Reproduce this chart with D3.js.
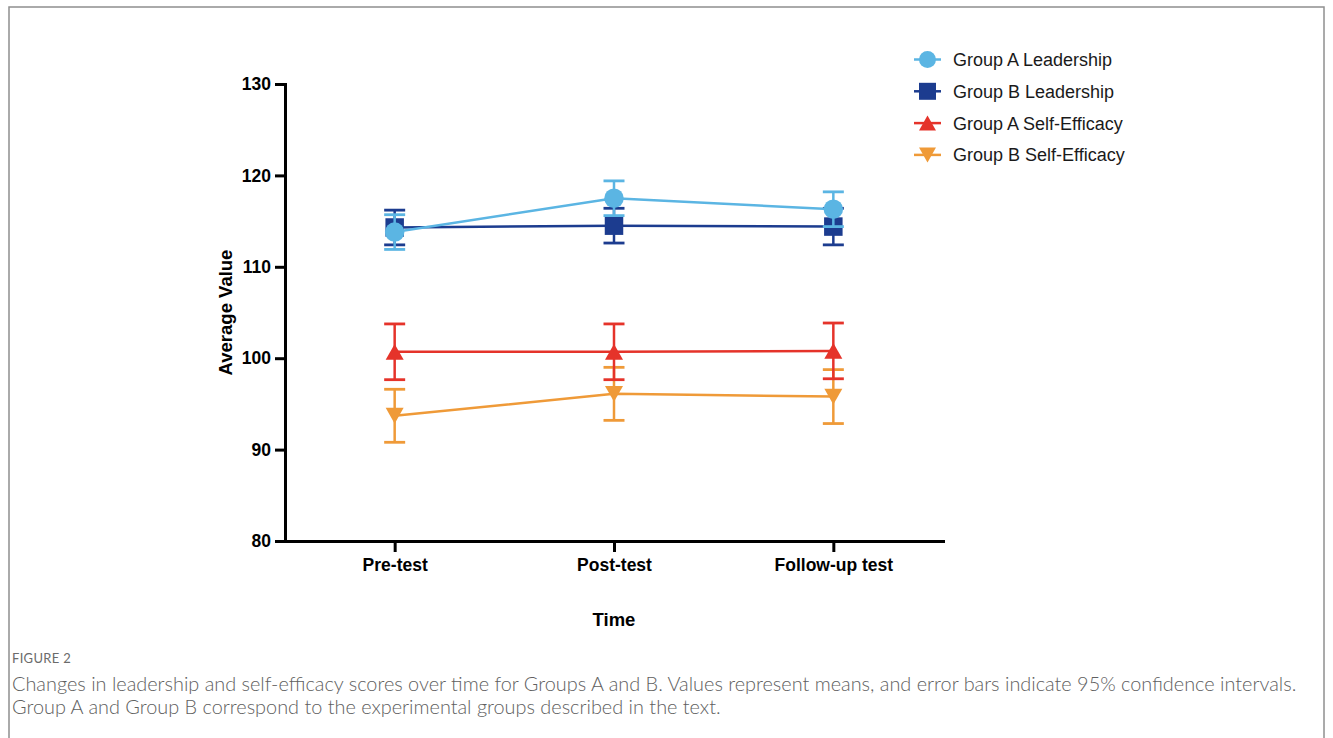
<!DOCTYPE html>
<html>
<head>
<meta charset="utf-8">
<script src="https://cdn.jsdelivr.net/npm/d3@7"></script>
<style>
  html, body { margin: 0; padding: 0; background: #fff; }
  svg { display: block; }
</style>
</head>
<body>
<svg id="chart" width="1333" height="738"></svg>
<script>
// ---------------- DATA ----------------
const categories = ["Pre-test", "Post-test", "Follow-up test"];
const yTicks = [80, 90, 100, 110, 120, 130];

const seriesNames = ["Group A Leadership", "Group B Leadership", "Group A Self-Efficacy", "Group B Self-Efficacy"];

const groupALeadership = [113.8, 117.5, 116.3];
const groupALeadershipCI = [1.9, 1.9, 1.9];

const groupBLeadership = [114.3, 114.5, 114.4];
const groupBLeadershipCI = [1.9, 1.9, 2.0];

const groupASelfEfficacy = [100.7, 100.7, 100.8];
const groupASelfEfficacyCI = [3.05, 3.05, 3.05];

const groupBSelfEfficacy = [93.7, 96.1, 95.8];
const groupBSelfEfficacyCI = [2.9, 2.9, 2.95];

const xTitle = "Time";
const yTitle = "Average Value";
const figureLabel = "FIGURE 2";
const captionLines = [
  "Changes in leadership and self-efficacy scores over time for Groups A and B. Values represent means, and error bars indicate 95% confidence intervals.",
  "Group A and Group B correspond to the experimental groups described in the text."
];

// ---------------- STYLES ----------------
const colors = {
  "Group A Leadership": "#5BB5E3",
  "Group B Leadership": "#1C3C8F",
  "Group A Self-Efficacy": "#E5332A",
  "Group B Self-Efficacy": "#EF9A38"
};

// custom symbols (centered on bounding box)
const triUp = { draw(ctx, size) { const w = Math.sqrt(size); const h = w * 0.88; ctx.moveTo(0, -h/2); ctx.lineTo(w/2, h/2); ctx.lineTo(-w/2, h/2); ctx.closePath(); } };
const triDown = { draw(ctx, size) { const w = Math.sqrt(size); const h = w * 0.88; ctx.moveTo(0, h/2); ctx.lineTo(w/2, -h/2); ctx.lineTo(-w/2, -h/2); ctx.closePath(); } };
const circ = { draw(ctx, size) { const r = Math.sqrt(size) / 2; ctx.moveTo(r, 0); ctx.arc(0, 0, r, 0, 2 * Math.PI); } };
const sq = { draw(ctx, size) { const w = Math.sqrt(size); ctx.rect(-w/2, -w/2, w, w); } };

const series = [
  { name: "Group B Leadership", values: groupBLeadership, ci: groupBLeadershipCI, shape: sq, size: 18.5 },
  { name: "Group A Leadership", values: groupALeadership, ci: groupALeadershipCI, shape: circ, size: 19.5 },
  { name: "Group B Self-Efficacy", values: groupBSelfEfficacy, ci: groupBSelfEfficacyCI, shape: triDown, size: 18 },
  { name: "Group A Self-Efficacy", values: groupASelfEfficacy, ci: groupASelfEfficacyCI, shape: triUp, size: 18 }
];
const legendShapes = { "Group A Leadership": circ, "Group B Leadership": sq, "Group A Self-Efficacy": triUp, "Group B Self-Efficacy": triDown };

// ---------------- LAYOUT ----------------
const svg = d3.select("#chart");
const plot = { left: 285, right: 943, top: 84, bottom: 541 };

// figure frame
svg.append("rect")
  .attr("x", 9).attr("y", 7).attr("width", 1315).attr("height", 760)
  .attr("fill", "none").attr("stroke", "#8f8f8f").attr("stroke-width", 1.5);

const x = d3.scalePoint().domain(categories).range([plot.left, plot.right]).padding(0.5);
const y = d3.scaleLinear().domain([80, 130]).range([plot.bottom, plot.top]);

const axisFont = "'Liberation Sans', Arial, Helvetica, sans-serif";

// Y axis
const yAxis = svg.append("g")
  .attr("transform", `translate(${plot.left},0)`)
  .call(d3.axisLeft(y).tickValues(yTicks).tickSize(10).tickSizeOuter(0).tickPadding(4).tickFormat(d3.format("d")));
yAxis.select(".domain").attr("stroke", "#000").attr("stroke-width", 3).attr("stroke-linecap", "square");
yAxis.selectAll(".tick line").attr("stroke", "#000").attr("stroke-width", 3);
yAxis.selectAll(".tick text")
  .attr("font-family", axisFont).attr("font-weight", "bold").attr("font-size", 17.5).attr("fill", "#000");

// X axis
const xAxis = svg.append("g")
  .attr("transform", `translate(0,${plot.bottom})`)
  .call(d3.axisBottom(x).tickSize(11).tickSizeOuter(0).tickPadding(7));
xAxis.select(".domain").attr("stroke", "#000").attr("stroke-width", 3).attr("stroke-linecap", "square");
xAxis.selectAll(".tick line").attr("stroke", "#000").attr("stroke-width", 3);
xAxis.selectAll(".tick text")
  .attr("font-family", axisFont).attr("font-weight", "bold").attr("font-size", 17.5).attr("fill", "#000");

// Axis titles
svg.append("text")
  .attr("x", (plot.left + plot.right) / 2).attr("y", 626)
  .attr("text-anchor", "middle")
  .attr("font-family", axisFont).attr("font-weight", "bold").attr("font-size", 18.5)
  .text(xTitle);

svg.append("text")
  .attr("transform", `translate(232,${(plot.top + plot.bottom) / 2}) rotate(-90)`)
  .attr("text-anchor", "middle")
  .attr("font-family", axisFont).attr("font-weight", "bold").attr("font-size", 18.5)
  .text(yTitle);

// Series
const line = d3.line().x((d, i) => x(categories[i])).y(d => y(d));
const capW = 21;

series.forEach(s => {
  const c = colors[s.name];
  const g = svg.append("g");
  g.append("path").datum(s.values)
    .attr("d", line).attr("fill", "none").attr("stroke", c).attr("stroke-width", 2.5);

  const eb = g.selectAll(".eb").data(s.values).enter().append("g");
  eb.append("line")
    .attr("x1", (d, i) => x(categories[i])).attr("x2", (d, i) => x(categories[i]))
    .attr("y1", (d, i) => y(d + s.ci[i])).attr("y2", (d, i) => y(d - s.ci[i]))
    .attr("stroke", c).attr("stroke-width", 2.5);
  [1, -1].forEach(sign => {
    eb.append("line")
      .attr("x1", (d, i) => x(categories[i]) - capW / 2).attr("x2", (d, i) => x(categories[i]) + capW / 2)
      .attr("y1", (d, i) => y(d + sign * s.ci[i])).attr("y2", (d, i) => y(d + sign * s.ci[i]))
      .attr("stroke", c).attr("stroke-width", 2.8);
  });

  g.selectAll(".mk").data(s.values).enter().append("path")
    .attr("transform", (d, i) => `translate(${x(categories[i])},${y(d)})`)
    .attr("d", d3.symbol().type(s.shape).size(s.size * s.size)())
    .attr("fill", c);
});

// Legend
const legend = svg.append("g");
seriesNames.forEach((n, i) => {
  const ly = 59.5 + i * 31.8;
  const c = colors[n];
  legend.append("line").attr("x1", 914).attr("x2", 941).attr("y1", ly).attr("y2", ly)
    .attr("stroke", c).attr("stroke-width", 2.5);
  legend.append("path").attr("transform", `translate(927.5,${ly})`)
    .attr("d", d3.symbol().type(legendShapes[n]).size(17 * 17)()).attr("fill", c);
  legend.append("text").attr("x", 953).attr("y", ly + 6.5)
    .attr("font-family", axisFont).attr("font-size", 18).attr("fill", "#1a1a1a")
    .text(n);
});

// Caption
const capFont = "Lato, 'Open Sans', sans-serif";
svg.append("text").attr("x", 12).attr("y", 663)
  .attr("font-family", capFont).attr("font-size", 13).attr("fill", "#6b6b6b").attr("letter-spacing", 0.3)
  .text(figureLabel);

const capG = svg.append("g");
const capTexts = captionLines.map((t, i) => capG.append("text")
  .attr("x", 12).attr("y", 691 + i * 23)
  .attr("font-family", capFont).attr("font-size", 16).attr("font-weight", 300).attr("fill", "#606060")
  .text(t));
// fit first line to target width
const targetW = 1297 - 12;
const w0 = capTexts[0].node().getComputedTextLength();
const fs = 16 * targetW / w0;
capTexts.forEach(t => t.attr("font-size", fs));
</script>
</body>
</html>
